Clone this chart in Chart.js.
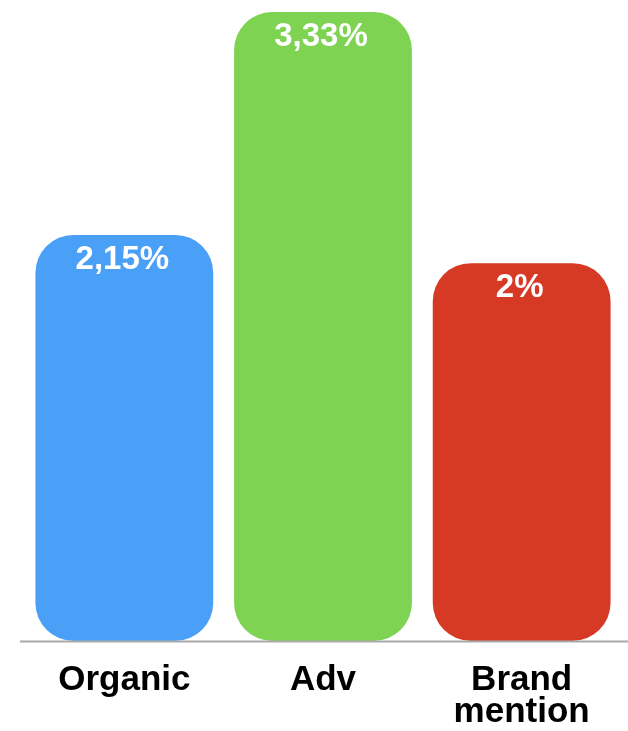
<!DOCTYPE html>
<html>
<head>
<meta charset="utf-8">
<script src="https://cdn.jsdelivr.net/npm/chart.js@4"></script>
<style>
  html, body { margin: 0; padding: 0; background: #ffffff; }
  #wrap { width: 628px; height: 731px; position: relative; }
</style>
</head>
<body>
<div id="wrap"><canvas id="c"></canvas></div>
<script>
const categories = ["Organic", "Adv", ["Brand", "mention"]];
const values = [2.15, 3.33, 2];
const valueLabels = ["2,15%", "3,33%", "2%"];
const barColors = ["#4a9ff6", "#7ed352", "#d63a25"];

const valueLabelPlugin = {
  id: 'valueLabels',
  afterDatasetsDraw(chart) {
    const ctx = chart.ctx;
    const meta = chart.getDatasetMeta(0);
    const yScale = chart.scales.y;
    const y0 = Math.round(yScale.getPixelForValue(0)) + 0.5;
    ctx.save();
    ctx.strokeStyle = '#a9a9a9';
    ctx.lineWidth = 2;
    ctx.beginPath();
    ctx.moveTo(20, y0);
    ctx.lineTo(chart.width, y0);
    ctx.stroke();
    ctx.fillStyle = '#ffffff';
    ctx.font = 'bold 33px "Liberation Sans", Arial, sans-serif';
    ctx.textAlign = 'center';
    ctx.textBaseline = 'middle';
    meta.data.forEach((bar, i) => {
      ctx.fillText(valueLabels[i], bar.x - 2, bar.y + 25);
    });
    ctx.restore();
  }
};

new Chart(document.getElementById('c'), {
  type: 'bar',
  data: {
    labels: categories,
    datasets: [{
      data: values,
      backgroundColor: barColors,
      borderRadius: 38,
      borderSkipped: false,
      barPercentage: 0.895,
      categoryPercentage: 1.0
    }]
  },
  options: {
    responsive: true,
    maintainAspectRatio: false,
    animation: false,
    layout: { padding: { left: 25, right: 7, top: 12, bottom: 0 } },
    plugins: { legend: { display: false }, tooltip: { enabled: false } },
    scales: {
      x: {
        grid: { display: false, drawTicks: false },
        border: { display: false },
        ticks: {
          color: '#000000',
          padding: 23,
          font: { family: '"Liberation Sans", Arial, sans-serif', size: 35, weight: 'bold', lineHeight: 0.93 }
        },
        afterFit(axis) { axis.height = 90; }
      },
      y: {
        display: false,
        min: 0,
        max: 3.33
      }
    }
  },
  plugins: [valueLabelPlugin]
});
</script>
</body>
</html>
